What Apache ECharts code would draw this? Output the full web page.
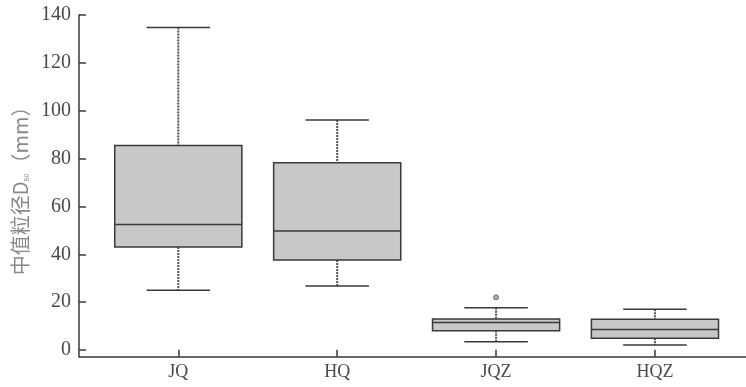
<!DOCTYPE html>
<html>
<head>
<meta charset="utf-8">
<script src="https://cdn.jsdelivr.net/npm/echarts@6/dist/echarts.min.js"></script>
<style>html,body{margin:0;padding:0;background:#fff;}#main{width:746px;height:387px;}</style>
</head>
<body>
<div id="main"></div>
<script>
const categories = ['JQ', 'HQ', 'JQZ', 'HQZ'];
const minVals = [25, 26.7, 3.5, 2.1];
const q1Vals = [43, 37.6, 8, 4.9];
const medVals = [52.5, 49.7, 11.5, 8.6];
const q3Vals = [85.5, 78.3, 13, 12.8];
const maxVals = [134.8, 96.1, 17.7, 17.0];
const outlierCats = [2];
const outlierVals = [22];
const yTicks = [0, 20, 40, 60, 80, 100, 120, 140];

const boxData = categories.map((c, i) => [i, minVals[i], q1Vals[i], medVals[i], q3Vals[i], maxVals[i]]);
const outlierData = outlierCats.map((c, i) => [c, outlierVals[i]]);
const catIdx = categories.map((c, i) => i);

const serif = "'Liberation Serif','DejaVu Serif',serif";
const chart = echarts.init(document.getElementById('main'));
chart.setOption({
  animation: false,
  grid: {left: 79, right: 0, top: 15, bottom: 30.3},
  xAxis: {
    type: 'value', min: -0.625, max: 3.573,
    splitLine: {show: false},
    axisLine: {show: true, onZero: false, lineStyle: {color: '#3a3a3a', width: 1.5}},
    axisTick: {show: true, inside: true, length: 7, customValues: catIdx, lineStyle: {color: '#3a3a3a', width: 1.5}},
    axisLabel: {customValues: catIdx, formatter: v => categories[Math.round(v)] || '', color: '#4a4a4a', fontFamily: serif, fontSize: 18, margin: 7}
  },
  yAxis: {
    type: 'value', min: -2.8, max: 140,
    splitLine: {show: false},
    axisLine: {show: true, onZero: false, lineStyle: {color: '#3a3a3a', width: 1.5}},
    axisTick: {show: true, inside: true, length: 7, customValues: yTicks, lineStyle: {color: '#3a3a3a', width: 1.5}},
    axisLabel: {customValues: yTicks, color: '#4a4a4a', fontFamily: serif, fontSize: 20, margin: 8},
    name: '中值粒径D{sub|50}（mm）',
    nameLocation: 'middle', nameGap: 47,
    nameTextStyle: {color: '#888', fontSize: 20, fontFamily: "'Noto Sans CJK SC'," + serif,
      rich: {sub: {fontSize: 7, color: '#888', verticalAlign: 'bottom', padding: [8, 0, 0, 0]}}}
  },
  series: [{
    type: 'custom',
    data: boxData,
    encode: {x: 0, y: [1, 2, 3, 4, 5]},
    renderItem: function (params, api) {
      const x = api.value(0);
      const lo = api.coord([x, api.value(1)]);
      const q1 = api.coord([x, api.value(2)]);
      const med = api.coord([x, api.value(3)]);
      const q3 = api.coord([x, api.value(4)]);
      const hi = api.coord([x, api.value(5)]);
      const bw = api.size([0.8, 0])[0];
      const cw = api.size([0.4, 0])[0];
      const cx = lo[0];
      const dark = '#3a3a3a';
      return {
        type: 'group',
        children: [
          {type: 'line', shape: {x1: cx, y1: hi[1], x2: cx, y2: q3[1]}, style: {stroke: '#555', lineWidth: 2, lineDash: [2, 1]}},
          {type: 'line', shape: {x1: cx, y1: q1[1], x2: cx, y2: lo[1]}, style: {stroke: '#555', lineWidth: 2, lineDash: [2, 1]}},
          {type: 'line', shape: {x1: cx - cw / 2, y1: hi[1], x2: cx + cw / 2, y2: hi[1]}, style: {stroke: dark, lineWidth: 1.5}},
          {type: 'line', shape: {x1: cx - cw / 2, y1: lo[1], x2: cx + cw / 2, y2: lo[1]}, style: {stroke: dark, lineWidth: 1.5}},
          {type: 'rect', shape: {x: cx - bw / 2, y: q3[1], width: bw, height: q1[1] - q3[1]}, style: {fill: '#c8c8c8', stroke: dark, lineWidth: 1.5}},
          {type: 'line', shape: {x1: cx - bw / 2, y1: med[1], x2: cx + bw / 2, y2: med[1]}, style: {stroke: dark, lineWidth: 1.5}}
        ]
      };
    }
  }, {
    type: 'scatter',
    data: outlierData,
    symbol: 'circle',
    symbolSize: 5,
    itemStyle: {color: '#999', borderColor: '#555', borderWidth: 1}
  }]
});
</script>
</body>
</html>
